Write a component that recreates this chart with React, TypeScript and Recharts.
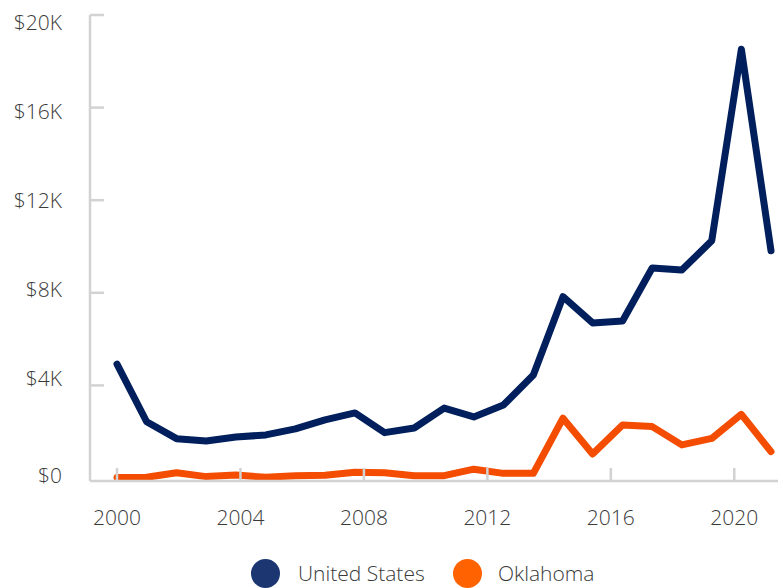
import { LineChart, Line, XAxis, YAxis } from 'recharts';

// decimal years of each point, as placed on the time axis
const dates = [
  2000.0, 2000.96, 2001.93, 2002.89, 2003.85, 2004.82, 2005.78, 2006.74,
  2007.71, 2008.67, 2009.63, 2010.6, 2011.56, 2012.52, 2013.49, 2014.45,
  2015.41, 2016.38, 2017.34, 2018.3, 2019.27, 2020.23, 2021.19,
];
const unitedStates = [
  4920, 2430, 1700, 1600, 1770, 1860, 2120, 2510, 2810, 1960, 2160, 3020,
  2640, 3150, 4450, 7830, 6700, 6780, 9070, 8980, 10250, 18520, 9820,
];
const oklahoma = [
  20, 30, 230, 60, 130, 30, 100, 120, 250, 230, 100, 100, 380, 200, 200,
  2580, 1040, 2290, 2220, 1430, 1710, 2750, 1140,
];
const yearTicks = [2000, 2004, 2008, 2012, 2016, 2020];
const dollarTicks = [0, 4000, 8000, 12000, 16000, 20000];
const seriesNames = ['United States', 'Oklahoma'];

const data = dates.map((date, i) => ({ date, us: unitedStates[i], ok: oklahoma[i] }));

const font = '"Open Sans", sans-serif';
const axisGrey = '#d2d2d2';
const textGrey = '#3a3a3a';
const navy = '#001f5c';
const orange = '#f44c00';

function YTick(props: any) {
  const { x, y, payload } = props;
  const v = payload.value;
  const dy = v === 0 ? 5 : 0.0009 * v - 3;
  const label = v === 0 ? '$0' : `$${v / 1000}K`;
  return (
    <g>
      {v !== 0 && <line x1={x} x2={x + 14} y1={y} y2={y} stroke={axisGrey} strokeWidth={2.5} />}
      <text x={x - 28} y={y + dy} textAnchor="end" fontFamily={font} fontSize={21} fontWeight={300} fill={textGrey}>
        {label}
      </text>
    </g>
  );
}

function XTick(props: any) {
  const { x, y, payload } = props;
  return (
    <g>
      <line x1={x} x2={x} y1={y - 13} y2={y} stroke={axisGrey} strokeWidth={2.5} />
      <text x={x} y={y + 44} textAnchor="middle" fontFamily={font} fontSize={21} fontWeight={300} fill={textGrey}>
        {payload.value}
      </text>
    </g>
  );
}

export default function App() {
  const legendItems = [
    { name: seriesNames[0], color: '#1b3670', cx: 265, textX: 298 },
    { name: seriesNames[1], color: '#ff6200', cx: 467, textX: 498 },
  ];

  return (
    <div style={{ position: 'absolute', left: 0, top: 0, width: 783, height: 588, background: '#fff' }}>
      <LineChart width={783} height={545} data={data} margin={{ top: 15, right: 5, left: 0, bottom: 0 }}>
        <Line type="linear" dataKey="us" name={seriesNames[0]} stroke={navy} strokeWidth={7} dot={false}
          strokeLinecap="round" strokeLinejoin="round" isAnimationActive={false} />
        <Line type="linear" dataKey="ok" name={seriesNames[1]} stroke={orange} strokeWidth={7} dot={false}
          strokeLinecap="round" strokeLinejoin="round" isAnimationActive={false} />
        <XAxis dataKey="date" type="number" domain={[2000, 2021.19]} ticks={yearTicks} interval={0}
          padding={{ left: 27, right: 7 }} height={64} tickSize={0} tickMargin={0} tickLine={false}
          axisLine={{ stroke: axisGrey, strokeWidth: 2.5 }} tick={<XTick />} />
        <YAxis type="number" domain={[0, 20000]} ticks={dollarTicks} interval={0} width={90}
          padding={{ top: 0, bottom: 3 }} tickSize={0} tickMargin={0} tickLine={false}
          axisLine={{ stroke: axisGrey, strokeWidth: 2.5 }} tick={<YTick />} />
      </LineChart>
      {legendItems.map((item) => (
        <div key={item.name}>
          <div style={{ position: 'absolute', left: item.cx - 14.5, top: 558.5, width: 29, height: 29,
            borderRadius: '50%', background: item.color }} />
          <div style={{ position: 'absolute', left: item.textX, top: 559, lineHeight: '28px', fontFamily: font,
            fontSize: 21, fontWeight: 300, color: textGrey, whiteSpace: 'nowrap' }}>
            {item.name}
          </div>
        </div>
      ))}
    </div>
  );
}
